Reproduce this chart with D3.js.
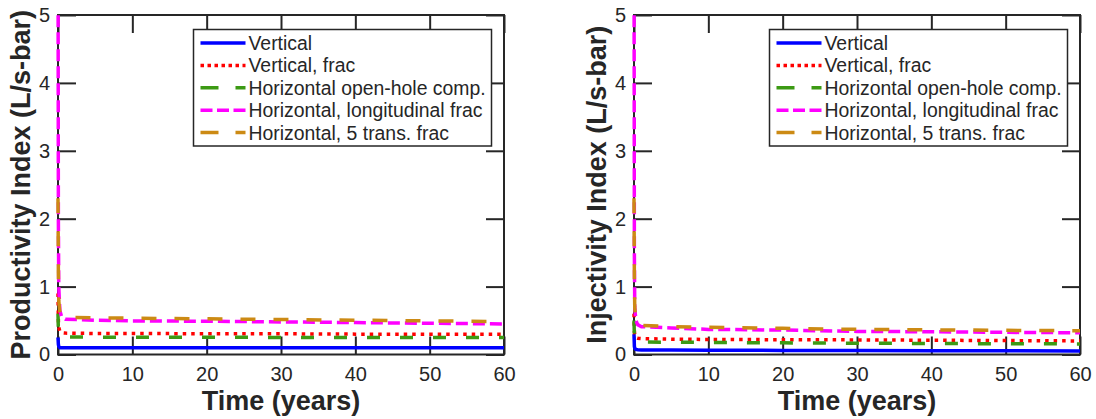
<!DOCTYPE html>
<html>
<head>
<meta charset="utf-8">
<script src="https://cdn.jsdelivr.net/npm/d3@7"></script>
<style>
  html, body { margin: 0; padding: 0; background: #fff; }
  svg { display: block; font-family: "Liberation Sans", Arial, sans-serif; }
</style>
</head>
<body>
<svg id="chart" width="1096" height="419"></svg>
<script>
// time axis samples (years)
const times = [0, 0.05, 0.1, 0.25, 0.5, 1, 5, 10, 20, 30, 40, 50, 60];

const seriesNames = [
  "Vertical",
  "Vertical, frac",
  "Horizontal open-hole comp.",
  "Horizontal, longitudinal frac",
  "Horizontal, 5 trans. frac"
];

// productivity index (L/s-bar)
const prodVertical     = [0.25, 0.15, 0.12, 0.10, 0.10, 0.10, 0.10, 0.10, 0.10, 0.10, 0.10, 0.10, 0.10];
const prodVertFrac     = [0.90, 0.50, 0.40, 0.34, 0.32, 0.315, 0.31, 0.31, 0.305, 0.305, 0.30, 0.30, 0.30];
const prodHorizOpen    = [0.60, 0.35, 0.30, 0.27, 0.26, 0.258, 0.255, 0.255, 0.253, 0.252, 0.251, 0.25, 0.25];
const prodHorizLong    = [6.5, 2.0, 1.0, 0.65, 0.55, 0.52, 0.505, 0.495, 0.49, 0.48, 0.47, 0.46, 0.45];
const prodHorizTrans   = [2.3, 1.2, 0.8, 0.62, 0.57, 0.55, 0.54, 0.535, 0.525, 0.515, 0.505, 0.495, 0.485];

// injectivity index (L/s-bar)
const injVertical      = [0.30, 0.12, 0.09, 0.075, 0.07, 0.068, 0.065, 0.063, 0.06, 0.058, 0.056, 0.055, 0.053];
const injVertFrac      = [0.60, 0.35, 0.28, 0.25, 0.24, 0.235, 0.225, 0.222, 0.218, 0.215, 0.21, 0.205, 0.20];
const injHorizOpen     = [0.50, 0.28, 0.22, 0.20, 0.19, 0.185, 0.18, 0.178, 0.172, 0.166, 0.162, 0.159, 0.156];
const injHorizLong     = [6.5, 1.5, 0.7, 0.5, 0.44, 0.41, 0.39, 0.37, 0.36, 0.34, 0.335, 0.327, 0.32];
const injHorizTrans    = [2.3, 1.1, 0.7, 0.5, 0.45, 0.43, 0.41, 0.40, 0.385, 0.37, 0.363, 0.356, 0.35];

const xTicks = [0, 10, 20, 30, 40, 50, 60];
const yTicks = [0, 1, 2, 3, 4, 5];

const styles = [
  { color: "#0000ff", dash: null,    legendDash: null },
  { color: "#ff0000", dash: "3.5,5", legendDash: "3.5,3.5" },
  { color: "#3c9a14", dash: "13,20", legendDash: "18,17" },
  { color: "#ff00ff", dash: "12,5",  legendDash: "12,4.5" },
  { color: "#cc8a14", dash: "15,18", legendDash: "18,17" }
];

const axisColor = "#262626";
const svg = d3.select("#chart");

function drawPanel(left, yLabel, values, id) {
  const top = 15, bottom = 354.5, width = 446;
  const x = d3.scaleLinear().domain([0, 60]).range([left, left + width]);
  const y = d3.scaleLinear().domain([0, 5]).range([bottom, top]);
  const g = svg.append("g");

  g.append("clipPath").attr("id", "clip" + id)
    .append("rect")
    .attr("x", left - 2).attr("y", top)
    .attr("width", width + 4).attr("height", bottom - top + 2);

  // tick marks (inward on all sides) and tick labels
  const tickLen = 18;
  g.append("g")
    .attr("transform", `translate(0,${bottom})`)
    .call(d3.axisBottom(x).tickValues(xTicks).tickSize(-tickLen).tickPadding(12).tickFormat(d3.format("d")))
    .call(a => a.select(".domain").remove());
  g.append("g")
    .attr("transform", `translate(0,${top})`)
    .call(d3.axisTop(x).tickValues(xTicks).tickSize(-tickLen).tickFormat(""))
    .call(a => a.select(".domain").remove());
  g.append("g")
    .attr("transform", `translate(${left},0)`)
    .call(d3.axisLeft(y).tickValues(yTicks).tickSize(-tickLen).tickPadding(8).tickFormat(d3.format("d")))
    .call(a => a.select(".domain").remove());
  g.append("g")
    .attr("transform", `translate(${left + width},0)`)
    .call(d3.axisRight(y).tickValues(yTicks).tickSize(-tickLen).tickFormat(""))
    .call(a => a.select(".domain").remove());

  g.selectAll(".tick line").attr("stroke", axisColor).attr("stroke-width", 2);
  g.selectAll(".tick text")
    .attr("fill", axisColor)
    .attr("font-size", 20)
    .attr("font-family", "Liberation Sans, Arial, sans-serif");

  // box
  g.append("rect")
    .attr("x", left).attr("y", top)
    .attr("width", width).attr("height", bottom - top)
    .attr("fill", "none").attr("stroke", axisColor).attr("stroke-width", 2);

  // series
  const line = d3.line()
    .x((d, i) => x(times[i]))
    .y(d => y(d));

  const lines = g.append("g").attr("clip-path", `url(#clip${id})`);
  values.forEach((vals, i) => {
    lines.append("path")
      .datum(vals)
      .attr("fill", "none")
      .attr("stroke", styles[i].color)
      .attr("stroke-width", 3.5)
      .attr("stroke-dasharray", styles[i].dash)
      .attr("d", line);
  });

  // legend
  const lx = left + 135.5, ly = 29.5, lw = 298, lh = 116.5;
  const lg = g.append("g");
  lg.append("rect")
    .attr("x", lx).attr("y", ly).attr("width", lw).attr("height", lh)
    .attr("fill", "#fff").attr("stroke", axisColor).attr("stroke-width", 1.5);
  seriesNames.forEach((name, i) => {
    const ry = ly + 13.5 + i * 22.4;
    lg.append("line")
      .attr("x1", lx + 7).attr("x2", lx + 52)
      .attr("y1", ry).attr("y2", ry)
      .attr("stroke", styles[i].color)
      .attr("stroke-width", 3.5)
      .attr("stroke-dasharray", styles[i].legendDash);
    lg.append("text")
      .attr("x", lx + 55).attr("y", ry + 7)
      .attr("fill", axisColor)
      .style("font-size", "19.4px")
      .text(name);
  });

  // axis labels
  g.append("text")
    .attr("x", left + width / 2).attr("y", 410)
    .attr("text-anchor", "middle")
    .attr("fill", axisColor)
    .style("font-size", "27px").style("font-weight", "bold")
    .text("Time (years)");
  g.append("text")
    .attr("transform", `translate(${left - 28},${(top + bottom) / 2}) rotate(-90)`)
    .attr("text-anchor", "middle")
    .attr("fill", axisColor)
    .style("font-size", "27px").style("font-weight", "bold")
    .text(yLabel);
}

drawPanel(58, "Productivity Index (L/s-bar)",
  [prodVertical, prodVertFrac, prodHorizOpen, prodHorizLong, prodHorizTrans], "p");
drawPanel(634, "Injectivity Index (L/s-bar)",
  [injVertical, injVertFrac, injHorizOpen, injHorizLong, injHorizTrans], "i");
</script>
</body>
</html>
